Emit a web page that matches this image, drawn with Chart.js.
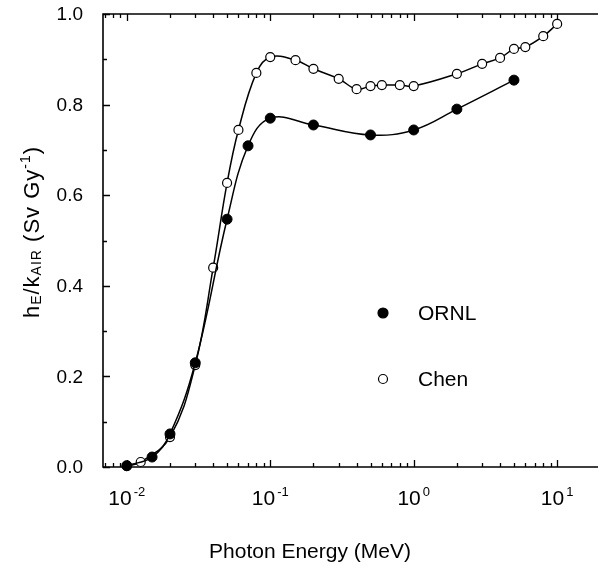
<!DOCTYPE html>
<html>
<head>
<meta charset="utf-8">
<script src="https://cdn.jsdelivr.net/npm/chart.js@4/dist/chart.umd.min.js"></script>
<style>
html, body { margin: 0; padding: 0; background: #fff; overflow: hidden; }
</style>
</head>
<body>
<canvas id="c" width="599" height="569"></canvas>
<script>
// photon energy in MeV, h_E/k_air in Sv/Gy
const ornlEnergy = [0.01, 0.015, 0.02, 0.03, 0.05, 0.07, 0.1, 0.2, 0.5, 1, 2, 5];
const ornlValue  = [0.003, 0.022, 0.073, 0.23, 0.547, 0.709, 0.770, 0.755, 0.733, 0.744, 0.790, 0.854];

const chenEnergy = [0.01, 0.0125, 0.02, 0.03, 0.04, 0.05, 0.06, 0.08, 0.1, 0.15, 0.2, 0.3,
                    0.4, 0.5, 0.6, 0.8, 1, 2, 3, 4, 5, 6, 8, 10];
const chenValue  = [0.002, 0.011, 0.066, 0.225, 0.44, 0.627, 0.744, 0.870, 0.905, 0.898, 0.879, 0.857,
                    0.834, 0.841, 0.843, 0.843, 0.841, 0.868, 0.890, 0.903, 0.923, 0.927, 0.951, 0.978];

const xTickValues = [0.01, 0.1, 1, 10];
const xTickExp    = ['-2', '-1', '0', '1'];
const yTickValues = [0, 0.2, 0.4, 0.6, 0.8, 1.0];
const yTickLabels = ['0.0', '0.2', '0.4', '0.6', '0.8', '1.0'];

const FONT = '"Liberation Sans", Arial, Helvetica, sans-serif';

let pts = (xs, ys) => xs.map((x, i) => ({x: x, y: ys[i]}));

// frame + inward tick marks
const frame = {
	id: 'frame',
	beforeDatasetsDraw(chart) {
		const {ctx, chartArea: a, scales: {x, y}} = chart;
		ctx.save();
		ctx.strokeStyle = '#000';
		ctx.lineWidth = 1.6;
		ctx.beginPath();
		ctx.moveTo(a.right + 5, a.top);
		ctx.lineTo(a.left, a.top);
		ctx.lineTo(a.left, a.bottom);
		ctx.lineTo(a.right + 5, a.bottom);
		ctx.stroke();

		ctx.lineWidth = 1.3;
		ctx.beginPath();
		for (let e = -3; e <= 1; e++) {
			for (let m = 1; m <= 9; m++) {
				let v = m * Math.pow(10, e);
				if (v < x.min || v > x.max) continue;
				let px = Math.round(x.getPixelForValue(v)) + 0.5;
				let len = m === 1 ? 7 : 4;
				ctx.moveTo(px, a.bottom); ctx.lineTo(px, a.bottom - len);
				ctx.moveTo(px, a.top); ctx.lineTo(px, a.top + len);
			}
		}
		for (let i = 0; i <= 10; i++) {
			let py = Math.round(y.getPixelForValue(i / 10)) + 0.5;
			let len = i % 2 === 0 ? 7 : 4;
			ctx.moveTo(a.left, py); ctx.lineTo(a.left + len, py);
		}
		ctx.stroke();
		ctx.restore();
	},
	afterDraw(chart) {
		const {ctx, chartArea: a, scales: {x, y}} = chart;
		ctx.save();
		ctx.fillStyle = '#000';

		// y tick labels
		ctx.font = '19px ' + FONT;
		ctx.textAlign = 'right';
		ctx.textBaseline = 'middle';
		yTickValues.forEach((v, i) => {
			ctx.fillText(yTickLabels[i], a.left - 20, y.getPixelForValue(v) + 1);
		});

		// x tick labels 10^n
		ctx.textAlign = 'left';
		ctx.textBaseline = 'alphabetic';
		xTickValues.forEach((v, i) => {
			ctx.font = '21px ' + FONT;
			let w1 = ctx.measureText('10').width;
			ctx.font = '13px ' + FONT;
			let w2 = ctx.measureText(xTickExp[i]).width;
			let left = x.getPixelForValue(v) - (w1 + w2 + 2) / 2;
			ctx.font = '21px ' + FONT;
			ctx.fillText('10', left, 505);
			ctx.font = '13px ' + FONT;
			ctx.fillText(xTickExp[i], left + w1 + 2, 496);
		});

		// x title
		ctx.font = '21px ' + FONT;
		ctx.textAlign = 'center';
		ctx.fillText('Photon Energy (MeV)', 310, 558);

		// y title, rotated, with sub/superscripts
		const parts = [
			['h', 22, 0], ['E', 14, 2], ['/k', 22, 0], ['AIR', 14, 2],
			[' (Sv Gy', 22, 0], ['-1', 14, -9], [')', 22, 0]
		];
		ctx.letterSpacing = '1px';
		let total = 0;
		parts.forEach(p => { ctx.font = p[1] + 'px ' + FONT; total += ctx.measureText(p[0]).width; });
		ctx.translate(39, 232);
		ctx.rotate(-Math.PI / 2);
		ctx.textAlign = 'left';
		let cx = -total / 2;
		parts.forEach(p => {
			ctx.font = p[1] + 'px ' + FONT;
			ctx.fillText(p[0], cx, p[2]);
			cx += ctx.measureText(p[0]).width;
		});
		ctx.restore();

		// legend
		ctx.save();
		ctx.font = '21px ' + FONT;
		ctx.textBaseline = 'middle';
		ctx.fillStyle = '#000';
		ctx.strokeStyle = '#000';
		ctx.lineWidth = 1.2;
		chart.data.datasets.forEach((ds, i) => {
			let ly = 313 + i * 66;
			ctx.beginPath();
			ctx.arc(383, ly, ds.pointRadius, 0, Math.PI * 2);
			ctx.fillStyle = ds.pointBackgroundColor;
			ctx.fill();
			ctx.stroke();
			ctx.fillStyle = '#000';
			ctx.fillText(ds.label, 418, ly + 1);
		});
		ctx.restore();
	}
};

new Chart(document.getElementById('c'), {
	type: 'scatter',
	data: {
		datasets: [{
			label: 'ORNL',
			data: pts(ornlEnergy, ornlValue),
			showLine: true,
			borderColor: '#000',
			borderWidth: 1.5,
			tension: 0.4,
			pointRadius: 5,
			pointBackgroundColor: '#000',
			pointBorderColor: '#000',
			pointBorderWidth: 1,
			clip: false
		}, {
			label: 'Chen',
			data: pts(chenEnergy, chenValue),
			showLine: true,
			borderColor: '#000',
			borderWidth: 1.5,
			tension: 0.4,
			pointRadius: 4.5,
			pointBackgroundColor: '#fff',
			pointBorderColor: '#000',
			pointBorderWidth: 1.2,
			clip: false
		}]
	},
	options: {
		responsive: false,
		animation: false,
		layout: { padding: { left: 103, top: 14, right: 1, bottom: 102 } },
		scales: {
			x: { type: 'logarithmic', min: Math.pow(10, -2.166), max: Math.pow(10, 1.25), display: false },
			y: { min: 0, max: 1, display: false }
		},
		plugins: { legend: { display: false }, tooltip: { enabled: false } }
	},
	plugins: [frame]
});
</script>
</body>
</html>
